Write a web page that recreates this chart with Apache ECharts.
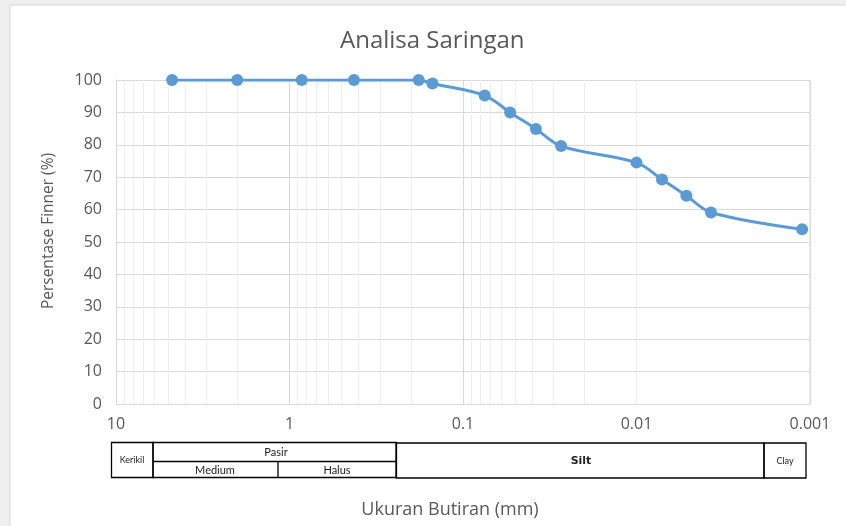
<!DOCTYPE html>
<html>
<head>
<meta charset="utf-8">
<script src="https://cdn.jsdelivr.net/npm/echarts@6/dist/echarts.min.js"></script>
<style>
  html, body { margin: 0; padding: 0; background: #efefef; }
  #chart { width: 846px; height: 526px; }
</style>
</head>
<body>
<div id="chart"></div>
<script>
// ukuran butiran (mm) dan persentase lolos
var ukuran = [4.75, 2.0, 0.85, 0.425, 0.18, 0.15, 0.075, 0.0535, 0.038, 0.0272, 0.0100, 0.00713, 0.00516, 0.00372, 0.00111];
var persen = [100, 100, 100, 100, 100, 98.9, 95.2, 90.0, 84.9, 79.6, 74.5, 69.3, 64.3, 59.1, 53.9];
// garis bantu minor (2..9 tiap dekade)
var dekade = [0.001, 0.01, 0.1, 1];
var kelipatan = [2, 3, 4, 5, 6, 7, 8, 9];

var minorLines = [];
dekade.forEach(function (d) {
  kelipatan.forEach(function (k) { minorLines.push({ xAxis: d * k }); });
});

var abu = '#595959';
var fontUtama = '"Open Sans", sans-serif';
var fontKecil = 'Lato, sans-serif';

var chart = echarts.init(document.getElementById('chart'));

var option = {
  backgroundColor: '#efefef',
  animation: false,
  title: {
    text: 'Analisa Saringan',
    left: 335,
    top: 24,
    textStyle: { color: abu, fontSize: 24, fontWeight: 'normal', fontFamily: fontUtama }
  },
  grid: { left: 116, right: 36, top: 80, bottom: 122 },
  xAxis: {
    type: 'log',
    logBase: 10,
    min: 0.001,
    max: 10,
    inverse: true,
    axisLine: { show: true, lineStyle: { color: '#d9d9d9' } },
    axisTick: { show: false },
    axisLabel: {
      color: abu, fontSize: 16, fontFamily: fontUtama, margin: 12,
      formatter: function (v) { return String(+v.toPrecision(3)); }
    },
    splitLine: { show: true, lineStyle: { color: '#d9d9d9', width: 1 } }
  },
  yAxis: {
    type: 'value',
    min: 0,
    max: 100,
    interval: 10,
    axisLine: { show: true, lineStyle: { color: '#d9d9d9' } },
    axisTick: { show: false },
    axisLabel: { color: abu, fontSize: 16, fontFamily: fontUtama, margin: 14 },
    splitLine: { lineStyle: { color: '#d9d9d9' } }
  },
  graphic: [
    { type: 'rect', z: -10, shape: { x: 10, y: 5, width: 840, height: 525 },
      style: { fill: '#ffffff', stroke: '#d6d6d6', lineWidth: 1 } },
    { type: 'line', shape: { x1: 810, y1: 80, x2: 810, y2: 404 }, style: { stroke: '#d9d9d9', lineWidth: 1 } },
    { type: 'text', x: 450, y: 510,
      style: { text: 'Ukuran Butiran (mm)', fill: abu, fontSize: 18, fontFamily: fontUtama, align: 'center', verticalAlign: 'middle' } },
    { type: 'text', x: 49, y: 231, rotation: Math.PI / 2,
      style: { text: 'Persentase Finner (%)', fill: abu, fontSize: 15.5, fontFamily: fontUtama, align: 'center', verticalAlign: 'middle' } },
    // tabel klasifikasi tanah
    { type: 'rect', shape: { x: 111.5, y: 442.5, width: 41.5, height: 35 }, style: { fill: 'none', stroke: '#000', lineWidth: 1.3 } },
    { type: 'rect', shape: { x: 153, y: 442.5, width: 243, height: 35 }, style: { fill: 'none', stroke: '#000', lineWidth: 1.3 } },
    { type: 'line', shape: { x1: 153, y1: 461.5, x2: 396, y2: 461.5 }, style: { stroke: '#000', lineWidth: 1.3 } },
    { type: 'line', shape: { x1: 278, y1: 461.5, x2: 278, y2: 477.5 }, style: { stroke: '#000', lineWidth: 1.3 } },
    { type: 'rect', shape: { x: 396.5, y: 443, width: 367.5, height: 35 }, style: { fill: 'none', stroke: '#000', lineWidth: 1.3 } },
    { type: 'rect', shape: { x: 764, y: 443, width: 42, height: 35 }, style: { fill: 'none', stroke: '#000', lineWidth: 1.3 } },
    { type: 'text', x: 132, y: 460, style: { text: 'Kerikil', fill: '#222', fontSize: 9, fontFamily: fontKecil, align: 'center', verticalAlign: 'middle' } },
    { type: 'text', x: 276, y: 452, style: { text: 'Pasir', fill: '#222', fontSize: 11, fontFamily: fontKecil, align: 'center', verticalAlign: 'middle' } },
    { type: 'text', x: 215, y: 470, style: { text: 'Medium', fill: '#222', fontSize: 11, fontFamily: fontKecil, align: 'center', verticalAlign: 'middle' } },
    { type: 'text', x: 337, y: 470, style: { text: 'Halus', fill: '#222', fontSize: 11, fontFamily: fontKecil, align: 'center', verticalAlign: 'middle' } },
    { type: 'text', x: 581, y: 461, style: { text: 'Silt', fill: '#222', fontSize: 11, fontWeight: 'bold', fontFamily: '"DejaVu Sans", sans-serif', align: 'center', verticalAlign: 'middle' } },
    { type: 'text', x: 785, y: 461, style: { text: 'Clay', fill: '#222', fontSize: 9, fontFamily: fontKecil, align: 'center', verticalAlign: 'middle' } }
  ],
  series: [
    {
      name: 'grid minor',
      type: 'line',
      data: [],
      silent: true,
      markLine: {
        silent: true,
        symbol: 'none',
        label: { show: false },
        lineStyle: { color: '#eeeeee', width: 1, type: 'solid' },
        data: minorLines,
        animation: false
      },
      z: 0
    },
    {
      name: 'Analisa Saringan',
      type: 'line',
      smooth: 0.35,
      data: ukuran.map(function (u, i) { return [u, persen[i]]; }),
      symbol: 'circle',
      symbolSize: 12,
      itemStyle: { color: '#5b9bd5' },
      lineStyle: { color: '#5b9bd5', width: 3 },
      z: 5
    }
  ]
};
option && chart.setOption(option);
</script>
</body>
</html>
